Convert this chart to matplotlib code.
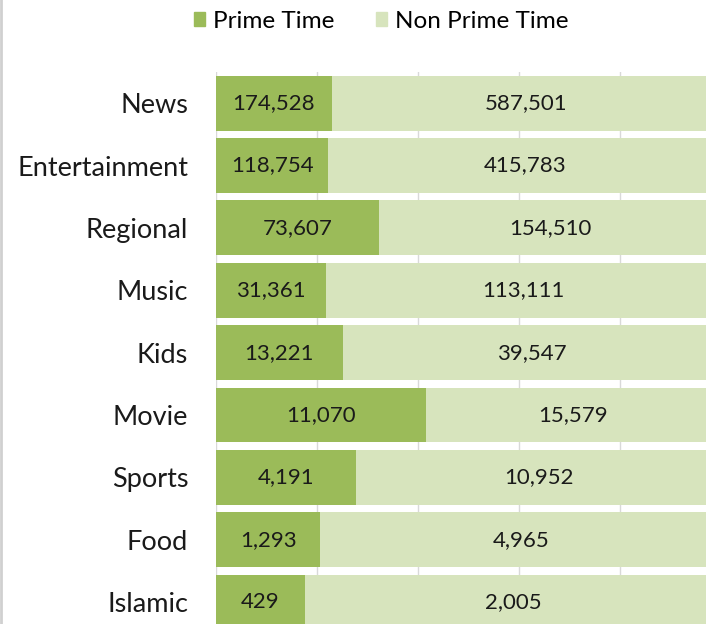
import matplotlib
matplotlib.use("Agg")
from matplotlib import pyplot as plt
from matplotlib.patches import Patch
from matplotlib.lines import Line2D
import numpy as np

categories = ["News", "Entertainment", "Regional", "Music", "Kids",
              "Movie", "Sports", "Food", "Islamic"]
prime = [174528, 118754, 73607, 31361, 13221, 11070, 4191, 1293, 429]
non_prime = [587501, 415783, 154510, 113111, 39547, 15579, 10952, 4965, 2005]

prime_color = "#9BBB59"
non_prime_color = "#D7E4BD"

plt.rcParams["font.family"] = ["Lato", "DejaVu Sans"]

p = np.array(prime, dtype=float)
n = np.array(non_prime, dtype=float)
tot = p + n
p_share = p / tot
n_share = n / tot
y = np.arange(len(categories))

fig = plt.figure(figsize=(7.06, 6.24), dpi=100)
ax = fig.add_axes([216 / 706, 0, 490 / 706, 552 / 624])

ax.barh(y, p_share, height=0.88, color=prime_color, zorder=2)
ax.barh(y, n_share, left=p_share, height=0.88, color=non_prime_color, zorder=2)

for i in range(len(categories)):
    ax.text(p_share[i] / 2, y[i], f"{prime[i]:,}", ha="center", va="center",
            fontsize=16, color="#1a1a1a", zorder=3)
    ax.text(p_share[i] + n_share[i] / 2, y[i], f"{non_prime[i]:,}", ha="center",
            va="center", fontsize=16, color="#1a1a1a", zorder=3)

ax.set_xlim(0, 0.97)
ax.set_ylim(8.35, -0.5)
ax.set_xticks([0, 0.2, 0.4, 0.6, 0.8])
ax.xaxis.grid(True, color="#d9d9d9", linewidth=1, zorder=0)
ax.set_axisbelow(True)
ax.tick_params(axis="x", length=0, labelbottom=False)
ax.set_yticks(y)
ax.set_yticklabels(categories, fontsize=19.5, color="#1a1a1a")
ax.tick_params(axis="y", length=0, pad=20)
for s in ax.spines.values():
    s.set_visible(False)

handles = [Patch(color=prime_color, label="Prime Time"),
           Patch(color=non_prime_color, label="Non Prime Time")]
fig.legend(handles=handles, loc="center", bbox_to_anchor=(0.54, 0.966), ncol=2,
           frameon=False, fontsize=17.5, handlelength=0.45, handleheight=0.55,
           handletextpad=0.35, columnspacing=1.7)

fig.add_artist(Line2D([0.002, 0.002], [0, 1], color="#d0d0d0", linewidth=2))

fig.savefig("out.png", dpi=100)
